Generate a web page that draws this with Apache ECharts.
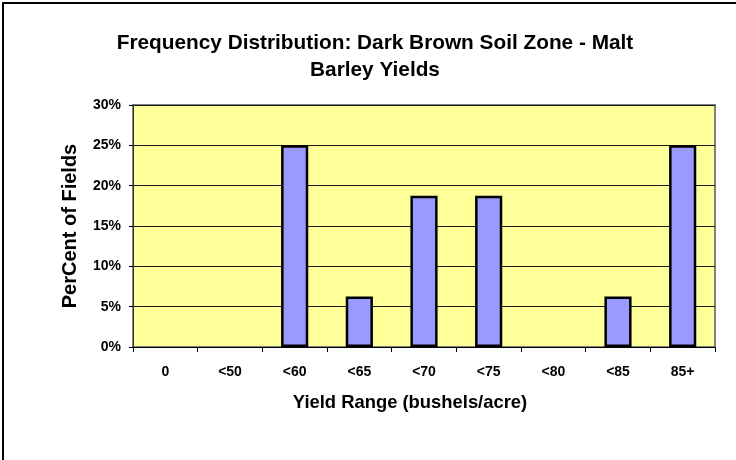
<!DOCTYPE html>
<html>
<head>
<meta charset="utf-8">
<script src="https://cdn.jsdelivr.net/npm/echarts@6/dist/echarts.min.js"></script>
<style>html,body{margin:0;padding:0;background:#fff;}#c{width:736px;height:460px;}</style>
</head>
<body>
<div id="c"></div>
<script>
var categories = ['0', '<50', '<60', '<65', '<70', '<75', '<80', '<85', '85+'];
var percentValues = [0, 0, 25, 6.25, 18.75, 18.75, 0, 6.25, 25];
var titleLines = ['Frequency Distribution: Dark Brown Soil Zone - Malt', 'Barley Yields'];
var xAxisName = 'Yield Range (bushels/acre)';
var yAxisName = 'PerCent of Fields';

var FONT = '"Liberation Sans", Arial, sans-serif';
var barData = percentValues.map(function (v) {
  return v === 0 ? {value: v, itemStyle: {borderWidth: 0}} : v;
});
var chart = echarts.init(document.getElementById('c'), null, {renderer: 'canvas'});
chart.setOption({
  animation: false,
  backgroundColor: '#ffffff',
  graphic: [
    {type: 'rect', z: 100, silent: true, shape: {x: 3, y: 3, width: 1000, height: 700},
     style: {fill: 'none', stroke: '#000', lineWidth: 2}},
    {type: 'text', z: 100, x: 375, y: 30,
     style: {text: titleLines.join('\n'), textAlign: 'center', textVerticalAlign: 'top',
             fontSize: 20.8, fontWeight: 'bold', fontFamily: FONT, lineHeight: 27, fill: '#000'}}
  ],
  grid: {left: 133, right: 21, top: 105, bottom: 113, show: true,
         backgroundColor: '#FFFF99', borderColor: '#808080', borderWidth: 2},
  xAxis: {
    type: 'category', data: categories,
    name: xAxisName, nameLocation: 'middle', nameGap: 47,
    nameTextStyle: {fontSize: 18.4, fontWeight: 'bold', fontFamily: FONT, color: '#000',
                    padding: [0, 28, 0, 0]},
    axisLine: {show: true, lineStyle: {color: '#000', width: 1}},
    axisTick: {show: true, length: 5, alignWithLabel: false, lineStyle: {color: '#000'}},
    axisLabel: {fontSize: 14, fontWeight: 'bold', fontFamily: FONT, color: '#000', margin: 18, interval: 0},
    splitLine: {show: false}
  },
  yAxis: {
    type: 'value', min: 0, max: 30, interval: 5,
    name: yAxisName, nameLocation: 'middle', nameGap: 53, nameRotate: 90,
    nameTextStyle: {fontSize: 20, fontWeight: 'bold', fontFamily: FONT, color: '#000'},
    axisLine: {show: true, lineStyle: {color: '#333', width: 1}},
    axisTick: {show: true, length: 4, lineStyle: {color: '#000'}},
    axisLabel: {fontSize: 14, fontWeight: 'bold', fontFamily: FONT, color: '#000', margin: 12,
                formatter: '{value}%'},
    splitLine: {show: true, lineStyle: {color: '#1a1a1a', width: 1}}
  },
  series: [{
    type: 'bar', data: barData, barWidth: '42%',
    itemStyle: {color: '#9999FF', borderColor: '#000', borderWidth: 2.5}
  }]
});
</script>
</body>
</html>
